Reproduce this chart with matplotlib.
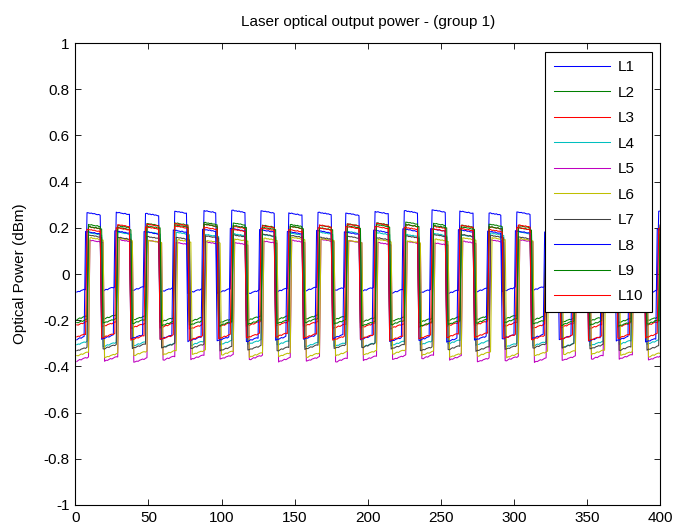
import matplotlib.pyplot as plt
import numpy as np

plt.rcParams['font.family'] = ['Liberation Sans', 'DejaVu Sans']

# samples
x = np.arange(1, 401)

labels = ['L1', 'L2', 'L3', 'L4', 'L5', 'L6', 'L7', 'L8', 'L9', 'L10']
colors = ['#0000ff', '#008000', '#ff0000', '#00bfbf', '#bf00bf',
          '#bfbf00', '#404040', '#0000ff', '#008000', '#ff0000']

# rising edges of the pulses (read from L1)
rise = [8, 28, 48, 67.5, 87.5, 107, 127, 146, 166, 185, 205,
        225, 244, 263, 282.5, 302, 321.5, 341, 360.5, 380, 399]

# per-line edge lag and pulse width
lag = [0.0, 0.3, 0.2, 0.8, 1.5, 1.8, 1.0, -1.2, 0.5, -0.4]
width = [9.3, 9.6, 9.6, 9.8, 9.8, 10.0, 9.8, 10.6, 9.7, 10.2]

# high / low levels (dBm)
high = [0.265, 0.212, 0.207, 0.172, 0.137, 0.146, 0.160, 0.185, 0.203, 0.195]
low = [-0.068, -0.192, -0.218, -0.298, -0.362, -0.342, -0.314, -0.274, -0.206, -0.268]

# small wiggles inside each plateau
low_shape = [
    [-0.012, -0.010, -0.007, -0.008, -0.003, -0.001, 0.002, 0.000, 0.005, 0.008, 0.009, 0.010],
    [-0.010, -0.011, -0.006, -0.002, -0.004, 0.001, 0.004, 0.006, 0.004, 0.009, 0.010, 0.011],
    [-0.013, -0.008, -0.009, -0.005, -0.001, -0.003, 0.001, 0.005, 0.007, 0.006, 0.010, 0.012],
]
high_shape = [
    [0.007, 0.006, 0.004, 0.005, 0.002, 0.003, 0.000, -0.002, -0.001, -0.004, -0.005, -0.006],
    [0.006, 0.003, 0.005, 0.002, 0.001, -0.001, 0.001, -0.003, -0.004, -0.003, -0.006, -0.006],
    [0.005, 0.006, 0.002, 0.003, 0.000, 0.002, -0.002, -0.001, -0.004, -0.005, -0.004, -0.007],
]
seg_offset = [0.000, -0.006, 0.004, -0.003, 0.006, -0.008, 0.002]

xticks = [0, 50, 100, 150, 200, 250, 300, 350, 400]
yticks = [-1, -0.8, -0.6, -0.4, -0.2, 0, 0.2, 0.4, 0.6, 0.8, 1]
yticklabels = ['-1', '-0.8', '-0.6', '-0.4', '-0.2', '0', '0.2', '0.4', '0.6', '0.8', '1']


def build_line(i):
    r = np.array(rise) + lag[i]
    f = r + width[i]
    y = np.empty(len(x))
    for n, xv in enumerate(x):
        k = np.searchsorted(r, xv, side='right') - 1
        if k >= 0 and xv < f[k]:
            pos = int(xv - r[k])
            seg = 2 * k + 1
            shape = high_shape[(i + k) % 3]
            base = high[i]
        else:
            start = f[k] if k >= 0 else 0
            pos = int(xv - start)
            seg = 2 * k + 2
            shape = low_shape[(i + k + 1) % 3]
            base = low[i]
        pos = min(pos, len(shape) - 1)
        y[n] = base + shape[pos] + seg_offset[(2 * i + seg) % 7]
    return y


fig = plt.figure(figsize=(6.75, 5.26), dpi=100)
ax = fig.add_axes([0.1116, 0.040, 0.8664, 0.878])

for i in range(len(labels)):
    ax.plot(x, build_line(i), color=colors[i], lw=0.75, label=labels[i])

ax.set_xlim(0, 400)
ax.set_ylim(-1, 1)
ax.set_xticks(xticks)
ax.set_xticklabels([str(t) for t in xticks])
ax.set_yticks(yticks)
ax.set_yticklabels(yticklabels)
ax.tick_params(direction='in', top=True, right=True, length=4, width=0.6,
               labelsize=11, pad=4)
for s in ax.spines.values():
    s.set_linewidth(0.8)

ax.set_title('Laser optical output power - (group 1)', fontsize=11, pad=12)
ax.set_ylabel('Optical Power (dBm)', fontsize=11, labelpad=12)

leg = ax.legend(loc='upper right', bbox_to_anchor=(0.986, 0.981), borderaxespad=0,
                fontsize=11, handlelength=3.7, handletextpad=0.5, labelspacing=0.75,
                borderpad=0.55, fancybox=False, framealpha=1, edgecolor='black')
leg.get_frame().set_linewidth(0.8)

fig.savefig('out.png')
